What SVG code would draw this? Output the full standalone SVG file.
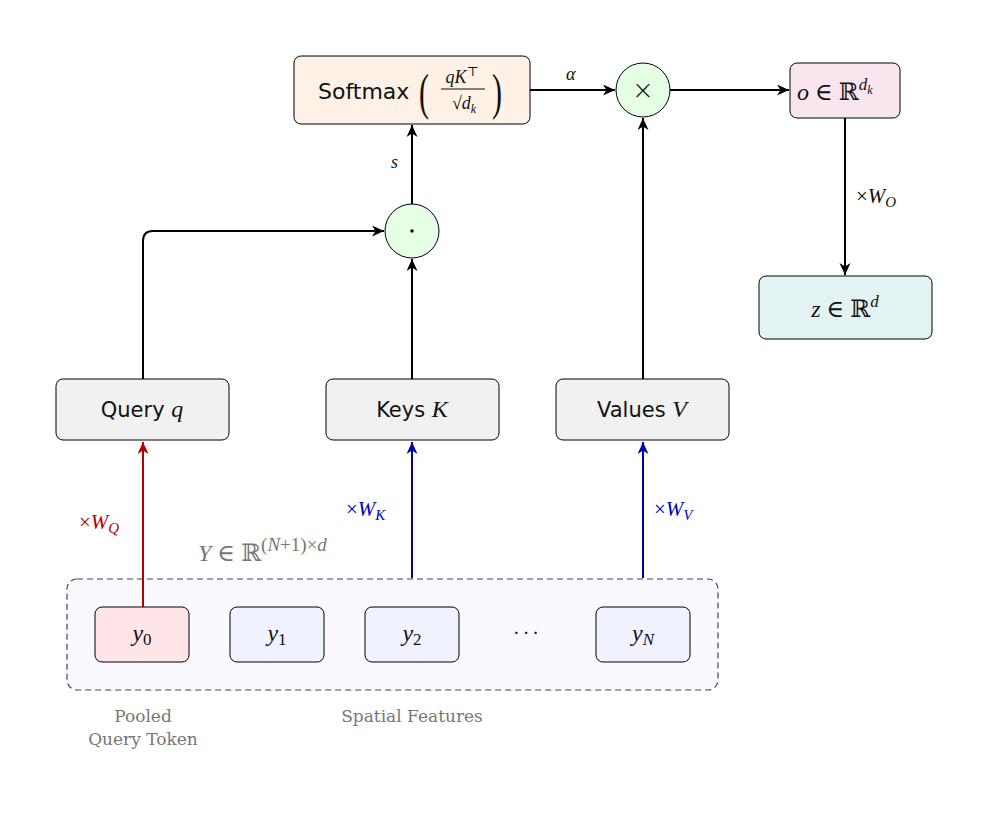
<svg xmlns="http://www.w3.org/2000/svg" width="988" height="814" viewBox="0 0 988 814">
<style>
.box{stroke:#000;stroke-width:1}
.sans{font-family:"DejaVu Sans","Liberation Sans",sans-serif;fill:#111}
.math{font-family:"Liberation Serif","DejaVu Serif",serif;font-style:italic;fill:#111}
.rm{font-family:"Liberation Serif","DejaVu Serif",serif;font-style:normal}
.bb{font-family:"DejaVu Serif","Liberation Serif",serif;font-style:normal}
.conn{fill:none;stroke:#000;stroke-width:2}
.red{stroke:#b30000}
.blue{stroke:#0000b3}
.note{font-family:"DejaVu Serif","Liberation Serif",serif;fill:#777;font-size:17px}
</style>
<defs>
<marker id="ah" markerUnits="userSpaceOnUse" markerWidth="14" markerHeight="12" refX="12" refY="5.5" orient="auto"><path d="M0,0 L12,5.5 L0,11 L3.5,5.5 z" fill="#000"/></marker>
<marker id="ahr" markerUnits="userSpaceOnUse" markerWidth="14" markerHeight="12" refX="12" refY="5.5" orient="auto"><path d="M0,0 L12,5.5 L0,11 L3.5,5.5 z" fill="#b30000"/></marker>
<marker id="ahb" markerUnits="userSpaceOnUse" markerWidth="14" markerHeight="12" refX="12" refY="5.5" orient="auto"><path d="M0,0 L12,5.5 L0,11 L3.5,5.5 z" fill="#0000b3"/></marker>
</defs>
<rect width="988" height="814" fill="#fff"/>

<g id="container">
<rect x="67" y="579" width="651" height="111" rx="10" fill="#f9f9ff" stroke="#444" stroke-width="1.2" stroke-dasharray="6,4"/>
<text x="198" y="561" class="math" font-size="24" style="fill:#777">Y <tspan class="rm">∈</tspan> <tspan class="bb">ℝ</tspan><tspan font-size="19" dy="-10" class="rm">(</tspan><tspan font-size="19">N</tspan><tspan font-size="19" class="rm">+1)×</tspan><tspan font-size="19">d</tspan></text>
</g>

<g id="connectors">
<line class="conn red" x1="143" y1="607" x2="143" y2="442" marker-end="url(#ahr)"/>
<line class="conn blue" x1="412" y1="578" x2="412" y2="442" marker-end="url(#ahb)"/>
<line class="conn blue" x1="643" y1="578" x2="643" y2="442" marker-end="url(#ahb)"/>
<path class="conn" d="M143,379 V241 Q143,231 153,231 H384" marker-end="url(#ah)"/>
<line class="conn" x1="412" y1="379" x2="412" y2="259" marker-end="url(#ah)"/>
<line class="conn" x1="412" y1="204" x2="412" y2="125" marker-end="url(#ah)"/>
<line class="conn" x1="643" y1="379" x2="643" y2="118" marker-end="url(#ah)"/>
<line class="conn" x1="530" y1="90" x2="615" y2="90" marker-end="url(#ah)"/>
<line class="conn" x1="670" y1="90" x2="789" y2="90" marker-end="url(#ah)"/>
<line class="conn" x1="845" y1="118" x2="845" y2="275" marker-end="url(#ah)"/>
<text x="79" y="529" class="math" font-size="21" style="fill:#b30000"><tspan class="rm">×</tspan>W<tspan font-size="15" dy="4">Q</tspan></text>
<text x="346" y="516" class="math" font-size="21" style="fill:#0000cc"><tspan class="rm">×</tspan>W<tspan font-size="15" dy="4">K</tspan></text>
<text x="654" y="516" class="math" font-size="21" style="fill:#0000cc"><tspan class="rm">×</tspan>W<tspan font-size="15" dy="4">V</tspan></text>
<text x="856" y="203" class="math" font-size="21"><tspan class="rm">×</tspan>W<tspan font-size="15" dy="4">O</tspan></text>
<text x="566" y="80" class="math" font-size="18">α</text>
<text x="391" y="168" class="math" font-size="18">s</text>
</g>

<g id="softmax">
<rect class="box" x="294" y="56" width="236" height="68" rx="7" fill="#fff1e5"/>
<text x="318" y="99" class="sans" font-size="22">Softmax</text>
<text x="419" y="109" font-family="Liberation Serif,serif" font-size="50" fill="#111" transform="translate(419 109) scale(0.6 1) translate(-419 -109)">(</text>
<text x="462" y="83" class="math" font-size="18" text-anchor="middle">qK<tspan class="rm" font-size="13" dy="-7">⊤</tspan></text>
<line x1="441" y1="89" x2="485" y2="89" stroke="#111" stroke-width="1"/>
<text x="464" y="109" class="math" font-size="18" text-anchor="middle"><tspan class="rm">√</tspan>d<tspan font-size="12" dy="4">k</tspan></text>
<text x="492" y="109" font-family="Liberation Serif,serif" font-size="50" fill="#111" transform="translate(492 109) scale(0.6 1) translate(-492 -109)">)</text>
</g>

<g id="mul">
<circle cx="643" cy="90" r="27" fill="#e5ffe5" stroke="#000" stroke-width="1"/>
<text x="643" y="99" font-family="DejaVu Sans,sans-serif" font-size="26" font-weight="300" text-anchor="middle" fill="#111">×</text>
</g>

<g id="dot">
<circle cx="412" cy="231" r="27" fill="#e5ffe5" stroke="#000" stroke-width="1"/>
<circle cx="412" cy="231" r="1.8" fill="#111"/>
</g>

<g id="o">
<rect class="box" x="790" y="63" width="110" height="55" rx="7" fill="#f8e5ee"/>
<text x="797" y="100" class="math" font-size="24">o <tspan class="rm">∈</tspan> <tspan class="bb">ℝ</tspan><tspan font-size="17" dy="-10">d</tspan><tspan font-size="12" dy="4">k</tspan></text>
</g>

<g id="z">
<rect class="box" x="759" y="276" width="173" height="63" rx="7" fill="#e3f2f2"/>
<text x="845" y="317" class="math" font-size="24" text-anchor="middle">z <tspan class="rm">∈</tspan> <tspan class="bb">ℝ</tspan><tspan font-size="17" dy="-10">d</tspan></text>
</g>

<g id="query">
<rect class="box" x="56" y="379" width="173" height="61" rx="7" fill="#f1f1f1"/>
<text x="142" y="417" class="sans" font-size="21" text-anchor="middle">Query <tspan class="math" font-size="24">q</tspan></text>
</g>
<g id="keys">
<rect class="box" x="326" y="379" width="173" height="61" rx="7" fill="#f1f1f1"/>
<text x="412" y="417" class="sans" font-size="21" text-anchor="middle">Keys <tspan class="math" font-size="24">K</tspan></text>
</g>
<g id="values">
<rect class="box" x="556" y="379" width="173" height="61" rx="7" fill="#f1f1f1"/>
<text x="642" y="417" class="sans" font-size="21" text-anchor="middle">Values <tspan class="math" font-size="24">V</tspan></text>
</g>

<g id="y0">
<rect class="box" x="95" y="607" width="94" height="55" rx="7" fill="#ffe5e8"/>
<text x="142" y="641" class="math" font-size="24" text-anchor="middle">y<tspan class="rm" font-size="17" dy="4">0</tspan></text>
</g>
<g id="y1">
<rect class="box" x="230" y="607" width="94" height="55" rx="7" fill="#f0f2ff"/>
<text x="277" y="641" class="math" font-size="24" text-anchor="middle">y<tspan class="rm" font-size="17" dy="4">1</tspan></text>
</g>
<g id="y2">
<rect class="box" x="365" y="607" width="94" height="55" rx="7" fill="#f0f2ff"/>
<text x="412" y="641" class="math" font-size="24" text-anchor="middle">y<tspan class="rm" font-size="17" dy="4">2</tspan></text>
</g>
<g id="ellipsis">
<text x="528" y="639" font-family="DejaVu Serif,serif" font-size="18" text-anchor="middle" fill="#111" letter-spacing="4">···</text>
</g>
<g id="yN">
<rect class="box" x="596" y="607" width="94" height="55" rx="7" fill="#f0f2ff"/>
<text x="643" y="641" class="math" font-size="24" text-anchor="middle">y<tspan font-size="17" dy="4">N</tspan></text>
</g>

<g id="labels">
<text x="143" y="722" class="note" text-anchor="middle">Pooled</text>
<text x="143" y="745" class="note" text-anchor="middle">Query Token</text>
<text x="412" y="722" class="note" text-anchor="middle">Spatial Features</text>
</g>
</svg>
